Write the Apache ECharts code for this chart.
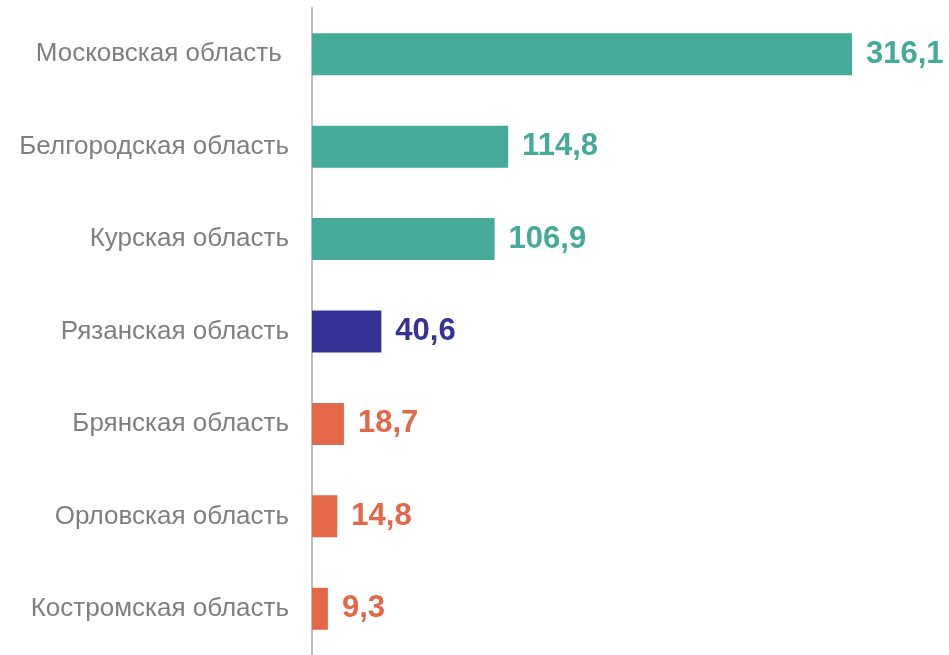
<!DOCTYPE html>
<html>
<head>
<meta charset="utf-8">
<script src="https://cdn.jsdelivr.net/npm/echarts@6/dist/echarts.min.js"></script>
<style>
html, body { margin: 0; padding: 0; background: #fff; }
#main { width: 949px; height: 655px; }
</style>
</head>
<body>
<div id="main"></div>
<script>
var regions = ['Московская область ', 'Белгородская область', 'Курская область', 'Рязанская область', 'Брянская область', 'Орловская область', 'Костромская область'];
var values = [316.1, 114.8, 106.9, 40.6, 18.7, 14.8, 9.3];

var barColors = ['#46aa98', '#46aa98', '#46aa98', '#353395', '#e36847', '#e36847', '#e36847'];

var myChart = echarts.init(document.getElementById('main'));

var option = {
    animation: false,
    grid: {
        left: 312,
        right: 97,
        top: 8,
        height: 654
    },
    xAxis: {
        type: 'value',
        min: 0,
        max: 316.1,
        show: false
    },
    yAxis: {
        type: 'category',
        inverse: true,
        data: regions,
        axisLine: { show: true, lineStyle: { color: '#bfbfbf', width: 2 } },
        axisTick: { show: false },
        axisLabel: {
            margin: 23,
            color: '#7f7f7f',
            fontSize: 26,
            fontFamily: '"Liberation Sans", Arial, sans-serif'
        }
    },
    series: [
        {
            type: 'bar',
            barWidth: 42,
            data: values,
            itemStyle: {
                color: function (p) { return barColors[p.dataIndex]; }
            },
            label: {
                show: true,
                position: 'right',
                distance: 14,
                fontSize: 31,
                fontWeight: 'bold',
                fontFamily: '"Liberation Sans", Arial, sans-serif',
                color: 'inherit',
                formatter: function (p) { return String(p.value).replace('.', ','); }
            }
        }
    ]
};

myChart.setOption(option);
</script>
</body>
</html>
